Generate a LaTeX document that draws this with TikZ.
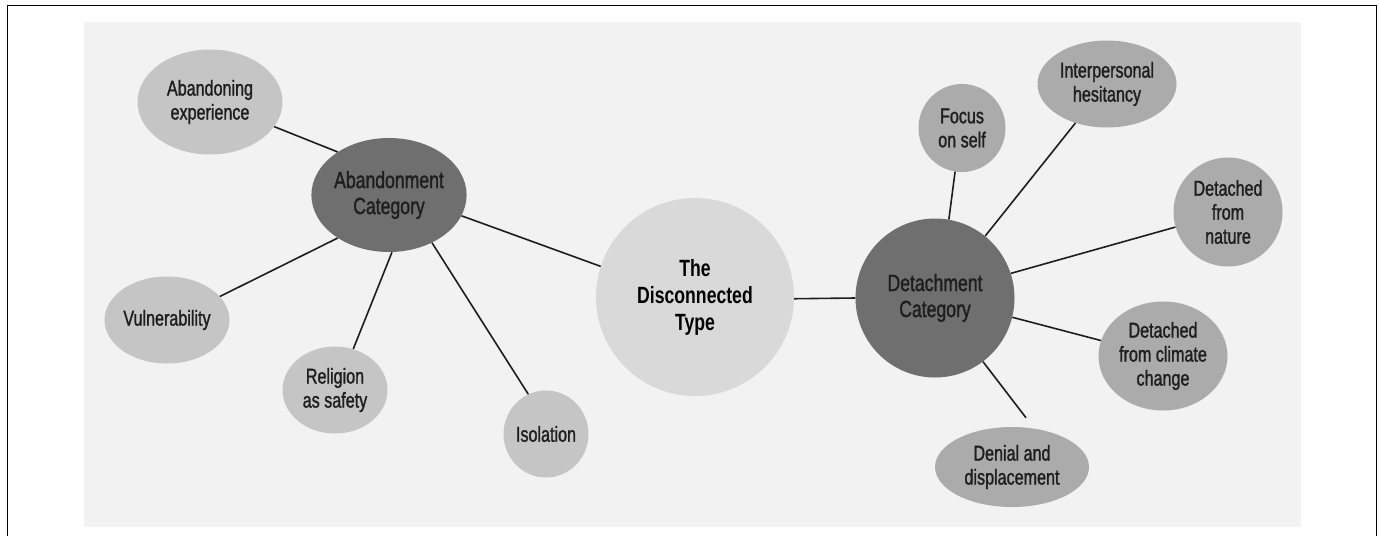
\documentclass[tikz,border=0pt]{standalone}
\usepackage{fontspec}
\setmainfont{Liberation Sans}[FakeStretch=0.75, UprightFeatures={FakeBold=1.3}]
\usetikzlibrary{shapes.geometric}
\definecolor{panelgray}{HTML}{F2F2F2}
\definecolor{coregray}{HTML}{D9D9D9}
\definecolor{hubgray}{HTML}{6F6F6F}
\definecolor{leftgray}{HTML}{C5C5C5}
\definecolor{rightgray}{HTML}{ABABAB}
\definecolor{inkgray}{HTML}{1E1E1E}

\begin{document}
\begin{tikzpicture}[
x=1pt, y=-1pt,
core/.style={ellipse, inner sep=0pt, align=center, fill=coregray, text=black, font=\fontsize{23.5}{27}\selectfont\bfseries},
hub/.style={ellipse, inner sep=0pt, align=center, fill=hubgray, text=inkgray, font=\fontsize{23.5}{26}\selectfont},
leaf/.style={ellipse, inner sep=0pt, align=center, text=inkgray, font=\fontsize{21.5}{24}\selectfont},
lleaf/.style={leaf, fill=leftgray},
rleaf/.style={leaf, fill=rightgray},
link/.style={draw=inkgray, line width=1.6pt}
]
\useasboundingbox (0,0) rectangle (1380,536);
\fill[panelgray] (84,22) rectangle (1301,527);
\draw[line width=1.4pt] (7.5,536) -- (7.5,5.5) -- (1376.5,5.5) -- (1376.5,536);

\node[core, minimum width=198pt, minimum height=198pt] (type) at (695,297) {The\\Disconnected\\Type};
\node[hub, minimum width=153pt, minimum height=114pt] (abandon) at (389,195) {Abandonment\\Category};
\node[hub, minimum width=159pt, minimum height=159pt] (detach) at (935,298) {Detachment\\Category};

\node[lleaf, minimum width=145pt, minimum height=105pt] (abexp) at (210,102) {Abandoning\\experience};
\node[lleaf, minimum width=125pt, minimum height=87pt] (vuln) at (167,320) {Vulnerability};
\node[lleaf, minimum width=105pt, minimum height=87pt] (relig) at (335,390) {Religion\\as safety};
\node[lleaf, minimum width=74pt, minimum height=87pt] (isol) at (546,434) {Isolation};

\node[rleaf, minimum width=87pt, minimum height=88pt] (focus) at (962,128) {Focus\\on self};
\node[rleaf, minimum width=139pt, minimum height=87pt] (interp) at (1107,84) {Interpersonal\\hesitancy};
\node[rleaf, minimum width=109pt, minimum height=109pt] (nature) at (1228,212) {Detached\\from\\nature};
\node[rleaf, minimum width=129pt, minimum height=109pt] (climate) at (1163,356) {Detached\\from climate\\change};
\node[rleaf, minimum width=154pt, minimum height=80pt] (denial) at (1012,467) {Denial and\\displacement};

\draw[link] (type.162.7) -- (abandon.-16.8);
\draw[link] (type.-1.7) -- (detach.180);
\draw[link] (abandon.140.4) -- (abexp.-21.8);
\draw[link] (abandon.220.9) -- (vuln.24.4);
\draw[link] (abandon.-87) -- (relig.66.3);
\draw[link] (abandon.-48.7) -- (isol.114.7);
\draw[link] (detach.80.7) -- (focus.-99);
\draw[link] (detach.51.4) -- (interp.231.5);
\draw[link] (detach.18.7) -- (nature.196.8);
\draw[link] (detach.-14.6) -- (climate.166.2);
\draw[link, shorten >=13.6pt] (detach.-53.6) -- (denial.60);
\end{tikzpicture}
\end{document}
